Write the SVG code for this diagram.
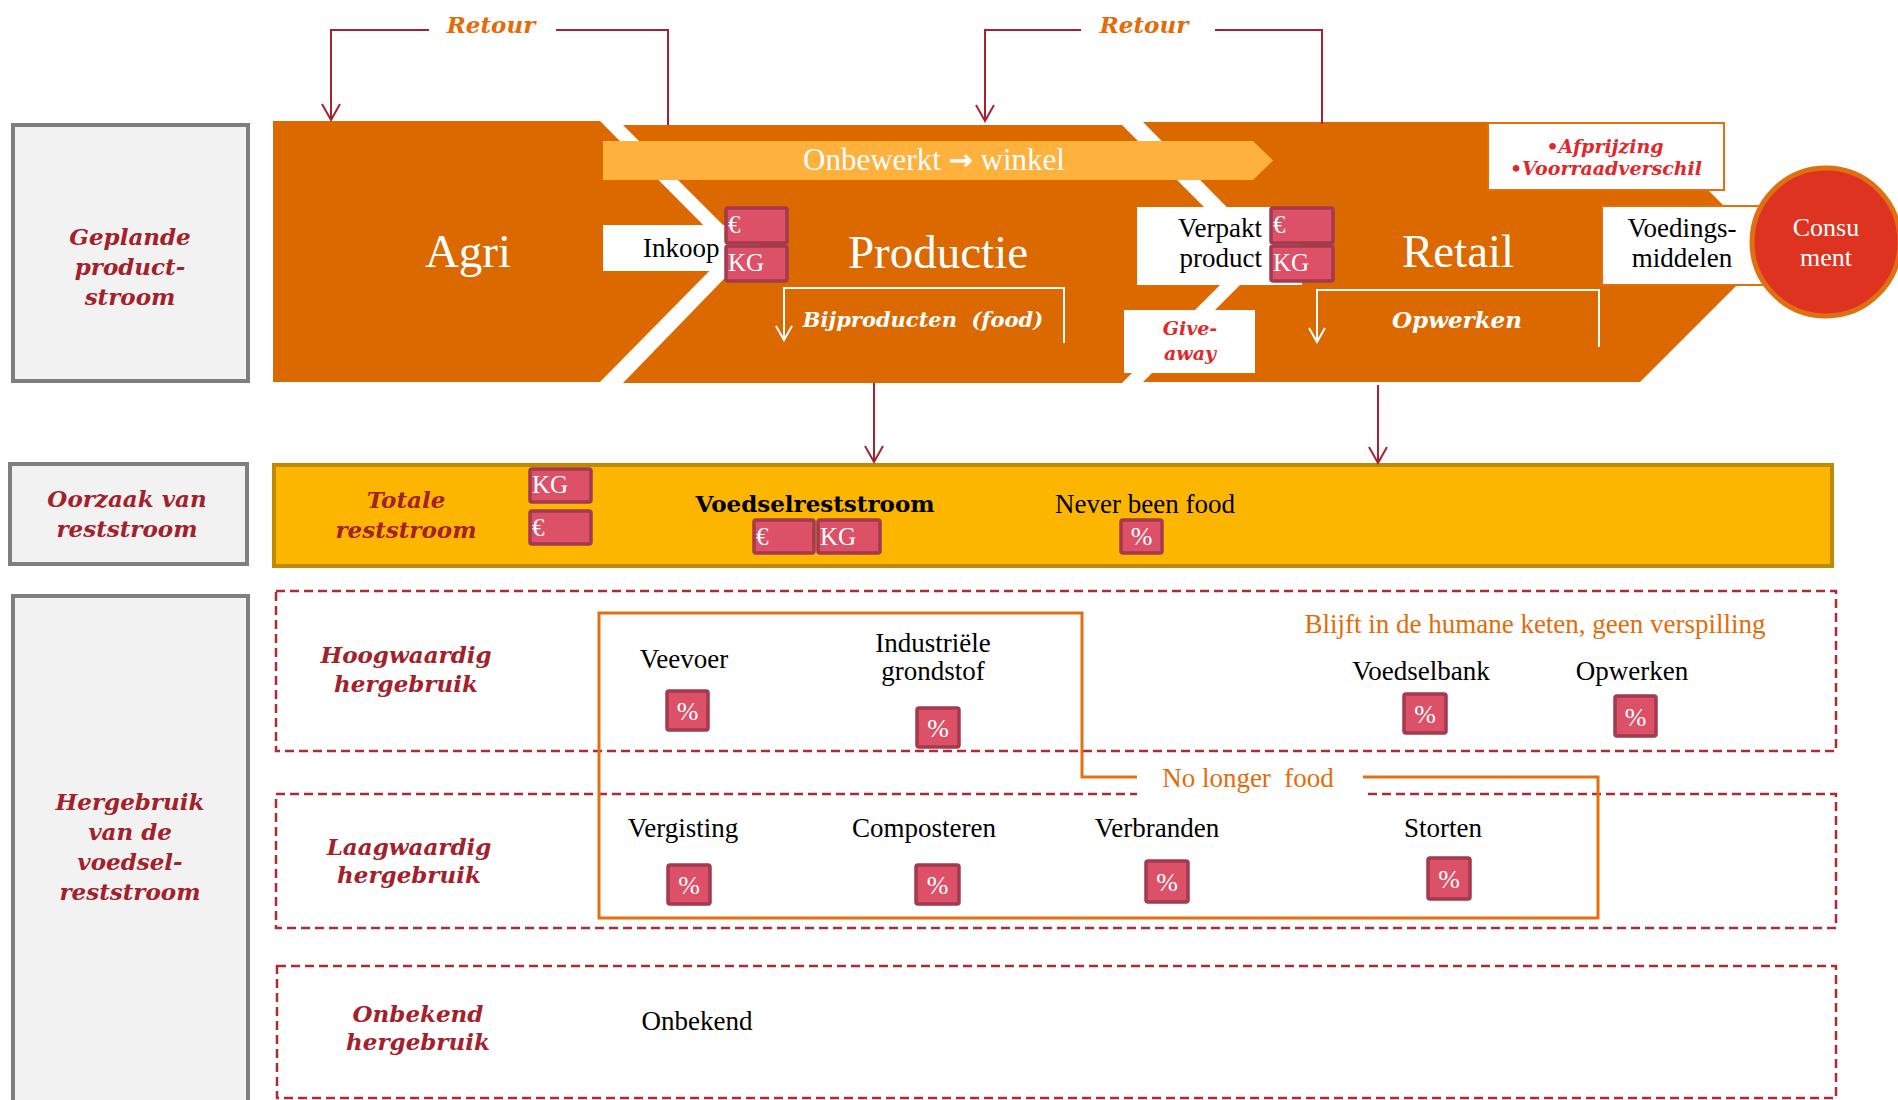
<svg xmlns="http://www.w3.org/2000/svg" width="1898" height="1100" viewBox="0 0 1898 1100">
  <style>
    .side { fill: #f2f2f2; stroke: #7f7f7f; stroke-width: 4; }
    .lbl { font-family: "DejaVu Serif", "Liberation Serif", serif; font-weight: bold; font-style: italic; font-size: 23px; fill: #a3212b; text-anchor: middle; }
    .txt { font-family: "Liberation Serif", serif; font-size: 27px; fill: #000; }
    .mid { text-anchor: middle; }
    .big { font-family: "Liberation Serif", serif; font-size: 47px; fill: #fff; text-anchor: middle; }
    .chev { fill: #db6900; }
    .wbox { fill: #fff; }
    .obox { fill: #fff; stroke: #e3700f; stroke-width: 2; }
    .tag { fill: #dc5068; stroke: #a33a4e; stroke-width: 3.5; }
    .tagt { font-family: "Liberation Serif", serif; font-size: 25px; fill: #fff; }
    .pct { font-family: "Liberation Serif", serif; font-size: 26px; fill: #fff; text-anchor: middle; }
    .red { font-family: "DejaVu Serif", serif; font-weight: bold; font-style: italic; fill: #e0282a; text-anchor: middle; }
    .wit { font-family: "DejaVu Serif", serif; font-weight: bold; font-style: italic; fill: #fff; }
    .org { font-family: "Liberation Serif", serif; font-size: 27px; fill: #e36c09; }
    .retour { font-family: "DejaVu Serif", serif; font-weight: bold; font-style: italic; font-size: 23px; fill: #e36c09; text-anchor: middle; }
    .dash { fill: none; stroke: #b02a36; stroke-width: 2.5; stroke-dasharray: 9 5; }
    .flow { fill: none; stroke: #a52230; stroke-width: 2; }
    .wline { fill: none; stroke: #fff; stroke-width: 2; }
  </style>
  <defs>
    <marker id="headRed" markerUnits="userSpaceOnUse" markerWidth="20" markerHeight="20" refX="0" refY="0" orient="auto" overflow="visible">
      <path d="M-16,-9 L0,0 L-16,9" fill="none" stroke="#a52230" stroke-width="2"/>
    </marker>
    <marker id="headWhite" markerUnits="userSpaceOnUse" markerWidth="20" markerHeight="20" refX="0" refY="0" orient="auto" overflow="visible">
      <path d="M-14,-8 L0,0 L-14,8" fill="none" stroke="#fff" stroke-width="2"/>
    </marker>
  </defs>

  <rect width="1898" height="1100" fill="#fff"/>

  <!-- row headers -->
  <g id="hdr-geplande">
    <rect class="side" x="13" y="125" width="235" height="256"/>
    <text class="lbl" x="130" y="245">Geplande</text>
    <text class="lbl" x="130" y="275">product-</text>
    <text class="lbl" x="130" y="305">stroom</text>
  </g>
  <g id="hdr-oorzaak">
    <rect class="side" x="10" y="464" width="237" height="100"/>
    <text class="lbl" x="127" y="507">Oorzaak van</text>
    <text class="lbl" x="127" y="537">reststroom</text>
  </g>
  <g id="hdr-hergebruik">
    <rect class="side" x="13" y="596" width="235" height="520"/>
    <text class="lbl" x="130" y="810">Hergebruik</text>
    <text class="lbl" x="130" y="840">van de</text>
    <text class="lbl" x="130" y="870">voedsel-</text>
    <text class="lbl" x="130" y="900">reststroom</text>
  </g>

  <!-- chain stages -->
  <g id="agri">
    <polygon class="chev" points="273,121 600,121 729,251 600,382 273,382"/>
    <text class="big" x="468" y="267">Agri</text>
  </g>
  <g id="productie">
    <polygon class="chev" points="623,125 1122,125 1251,254 1122,383 623,383 750,252"/>
    <text class="big" x="938" y="268">Productie</text>
  </g>
  <g id="retail">
    <polygon class="chev" points="1143,122 1640,122 1770,252 1640,382 1143,382 1272,253"/>
    <text class="big" x="1458" y="267">Retail</text>
  </g>

  <g id="onbewerkt">
    <polygon points="603,141 1253,141 1273,160.5 1253,180 603,180" fill="#ffb13d"/>
    <text x="934" y="170" font-family="Liberation Serif, serif" font-size="31" fill="#fff" text-anchor="middle">Onbewerkt <tspan font-family="DejaVu Sans, sans-serif" font-weight="bold" font-size="29">→</tspan> winkel</text>
  </g>

  <g id="inkoop">
    <rect class="wbox" x="603" y="225" width="157" height="46"/>
    <text class="txt" x="643" y="257">Inkoop</text>
    <rect class="tag" x="726" y="208" width="61" height="35" rx="2"/>
    <text class="tagt" x="728" y="233">€</text>
    <rect class="tag" x="726" y="246" width="61" height="35" rx="2"/>
    <text class="tagt" x="728" y="271">KG</text>
  </g>

  <g id="verpakt">
    <rect class="wbox" x="1137" y="207" width="165" height="78"/>
    <text class="txt" x="1262" y="237" text-anchor="end">Verpakt</text>
    <text class="txt" x="1262" y="267" text-anchor="end">product</text>
    <rect class="tag" x="1271" y="208" width="62" height="35" rx="2"/>
    <text class="tagt" x="1273" y="233">€</text>
    <rect class="tag" x="1271" y="246" width="62" height="35" rx="2"/>
    <text class="tagt" x="1273" y="271">KG</text>
  </g>

  <g id="giveaway">
    <rect class="wbox" x="1124" y="310" width="131" height="63"/>
    <text class="red" x="1190" y="335" font-size="19">Give-</text>
    <text class="red" x="1190" y="360" font-size="19">away</text>
  </g>

  <g id="afprijzing">
    <rect class="obox" x="1488" y="123" width="236" height="67"/>
    <text class="red" x="1605" y="153" font-size="19">•Afprijzing</text>
    <text class="red" x="1606" y="175" font-size="19">•Voorraadverschil</text>
  </g>

  <g id="voedingsmiddelen">
    <rect class="obox" x="1602" y="206" width="170" height="79"/>
    <text class="txt mid" x="1682" y="237">Voedings-</text>
    <text class="txt mid" x="1682" y="267">middelen</text>
  </g>

  <g id="consument">
    <circle cx="1826" cy="242" r="74" fill="#de3321" stroke="#e06f10" stroke-width="5"/>
    <text x="1826" y="236" font-family="Liberation Serif, serif" font-size="26" fill="#fff" text-anchor="middle">Consu</text>
    <text x="1826" y="266" font-family="Liberation Serif, serif" font-size="26" fill="#fff" text-anchor="middle">ment</text>
  </g>

  <g id="bijproducten">
    <text class="wit" x="923" y="327" font-size="21" text-anchor="middle" xml:space="preserve">Bijproducten  (food)</text>
  </g>
  <g id="opwerken-retail">
    <text class="wit" x="1457" y="328" font-size="23" text-anchor="middle">Opwerken</text>
  </g>

  <!-- cause row -->
  <g id="reststroom">
    <rect x="274" y="465" width="1558" height="101" fill="#fdb600" stroke="#c08a00" stroke-width="4"/>
    <text class="lbl" x="406" y="508">Totale</text>
    <text class="lbl" x="406" y="538">reststroom</text>
    <rect class="tag" x="530" y="469" width="61" height="33" rx="2"/>
    <text class="tagt" x="532" y="493">KG</text>
    <rect class="tag" x="530" y="511" width="61" height="33" rx="2"/>
    <text class="tagt" x="532" y="536">€</text>
  </g>
  <g id="voedselreststroom">
    <text x="815" y="512" font-family="DejaVu Serif, serif" font-weight="bold" font-size="23" fill="#000" text-anchor="middle">Voedselreststroom</text>
    <rect class="tag" x="754" y="520" width="60" height="33" rx="2"/>
    <text class="tagt" x="756" y="545">€</text>
    <rect class="tag" x="818" y="520" width="62" height="33" rx="2"/>
    <text class="tagt" x="820" y="545">KG</text>
  </g>
  <g id="never-been-food">
    <text class="txt mid" x="1145" y="513">Never been food</text>
    <rect class="tag" x="1121" y="520" width="41" height="33" rx="2"/>
    <text class="pct" x="1141.5" y="545">%</text>
  </g>

  <!-- reuse rows -->
  <g id="hoogwaardig">
    <rect class="dash" x="276" y="591" width="1560" height="160"/>
    <text class="lbl" x="406" y="663">Hoogwaardig</text>
    <text class="lbl" x="406" y="692">hergebruik</text>
  </g>
  <g id="laagwaardig">
    <rect class="dash" x="276" y="794" width="1560" height="134"/>
    <text class="lbl" x="409" y="855">Laagwaardig</text>
    <text class="lbl" x="409" y="883">hergebruik</text>
  </g>
  <g id="onbekend">
    <rect class="dash" x="277" y="966" width="1559" height="132"/>
    <text class="lbl" x="418" y="1022">Onbekend</text>
    <text class="lbl" x="418" y="1050">hergebruik</text>
    <text class="txt mid" x="697" y="1030">Onbekend</text>
  </g>

  <g id="no-longer-food">
    <path d="M1137,777 H1082 V613 H599 V918 H1598 V777 H1363" fill="none" stroke="#e3700f" stroke-width="3"/>
    <rect x="1137" y="765" width="226" height="36" fill="#fff"/>
    <text class="org" x="1248" y="787" text-anchor="middle" xml:space="preserve">No longer  food</text>
  </g>

  <g id="humane-keten">
    <text class="org" x="1535" y="633" text-anchor="middle">Blijft in de humane keten, geen verspilling</text>
  </g>

  <g id="veevoer">
    <text class="txt mid" x="684" y="668">Veevoer</text>
    <rect class="tag" x="667" y="691" width="41" height="39" rx="2"/>
    <text class="pct" x="687.5" y="720">%</text>
  </g>
  <g id="industriele-grondstof">
    <text class="txt mid" x="933" y="652">Industriële</text>
    <text class="txt mid" x="933" y="680">grondstof</text>
    <rect class="tag" x="917" y="708" width="42" height="39" rx="2"/>
    <text class="pct" x="938" y="737">%</text>
  </g>
  <g id="voedselbank">
    <text class="txt mid" x="1421" y="680">Voedselbank</text>
    <rect class="tag" x="1404" y="694" width="42" height="39" rx="2"/>
    <text class="pct" x="1425" y="723">%</text>
  </g>
  <g id="opwerken">
    <text class="txt mid" x="1632" y="680">Opwerken</text>
    <rect class="tag" x="1615" y="696" width="41" height="40" rx="2"/>
    <text class="pct" x="1635.5" y="726">%</text>
  </g>
  <g id="vergisting">
    <text class="txt mid" x="683" y="837">Vergisting</text>
    <rect class="tag" x="668" y="865" width="42" height="39" rx="2"/>
    <text class="pct" x="689" y="894">%</text>
  </g>
  <g id="composteren">
    <text class="txt mid" x="924" y="837">Composteren</text>
    <rect class="tag" x="916" y="865" width="43" height="39" rx="2"/>
    <text class="pct" x="937.5" y="894">%</text>
  </g>
  <g id="verbranden">
    <text class="txt mid" x="1157" y="837">Verbranden</text>
    <rect class="tag" x="1146" y="861" width="42" height="41" rx="2"/>
    <text class="pct" x="1167" y="891">%</text>
  </g>
  <g id="storten">
    <text class="txt mid" x="1443" y="837">Storten</text>
    <rect class="tag" x="1428" y="858" width="42" height="41" rx="2"/>
    <text class="pct" x="1449" y="888">%</text>
  </g>

  <!-- connectors -->
  <g id="connectors">
    <path class="flow" d="M668,125 V30 H556 M429,30 H331 V120" marker-end="url(#headRed)"/>
    <text class="retour" x="491" y="33">Retour</text>
    <path class="flow" d="M1322,124 V30 H1215 M1081,30 H985 V121" marker-end="url(#headRed)"/>
    <text class="retour" x="1144" y="33">Retour</text>
    <path class="wline" d="M1064,343 V288 H784 V340" marker-end="url(#headWhite)"/>
    <path class="wline" d="M1599,347 V290 H1317 V342" marker-end="url(#headWhite)"/>
    <path class="flow" d="M874,383 V462" marker-end="url(#headRed)"/>
    <path class="flow" d="M1378,385 V463" marker-end="url(#headRed)"/>
  </g>
</svg>
